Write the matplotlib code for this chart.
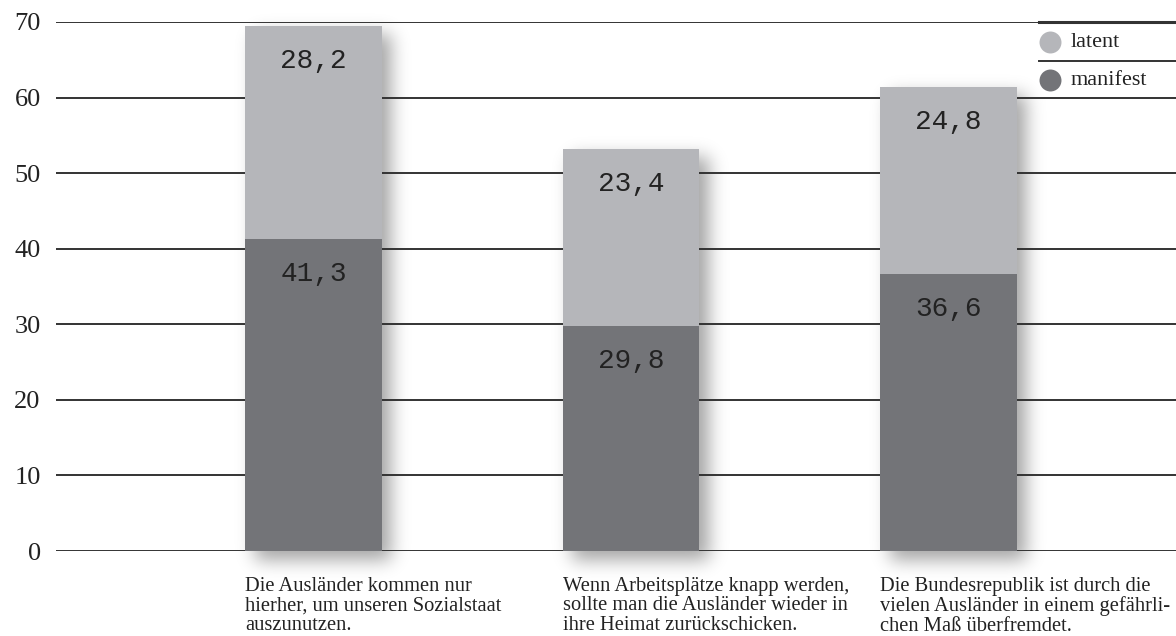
import numpy as np
import matplotlib
matplotlib.use("Agg")
import matplotlib.pyplot as plt

# Werte (Prozent)
kategorien = [
    "Die Ausländer kommen nur\nhierher, um unseren Sozialstaat\nauszunutzen.",
    "Wenn Arbeitsplätze knapp werden,\nsollte man die Ausländer wieder in\nihre Heimat zurückschicken.",
    "Die Bundesrepublik ist durch die\nvielen Ausländer in einem gefährli-\nchen Maß überfremdet.",
]
manifest = [41.3, 29.8, 36.6]
latent = [28.2, 23.4, 24.8]
yticks = [0, 10, 20, 30, 40, 50, 60, 70]

col_latent = "#b5b6ba"
col_manifest = "#737478"
serif = ["Liberation Serif", "DejaVu Serif"]
mono = ["Liberation Mono", "DejaVu Sans Mono"]

W, H, DPI = 1176, 636, 100
fig = plt.figure(figsize=(W / DPI, H / DPI), dpi=DPI)

# Hintergrund-Achse fuer die Schatten
bg = fig.add_axes([0, 0, 1, 1], zorder=-1)
bg.set_axis_off()

ax = fig.add_axes([56 / W, (H - 551) / H, 1 - 56 / W, 529 / H])
ax.set_facecolor("none")
ax.set_xlim(-0.811, 2.717)
ax.set_ylim(0, 70)
for s in ax.spines.values():
    s.set_visible(False)

x = np.arange(len(kategorien))
breite = 0.43

for t in yticks:
    ax.axhline(t, color="#333333", lw=1.4, zorder=1.5)

ax.bar(x, manifest, breite, color=col_manifest, zorder=3)
ax.bar(x, latent, breite, bottom=manifest, color=col_latent, zorder=3)

# Schatten: weichgezeichnete, versetzte Rechtecke
def profil(n, a, b, sigma):
    p = np.zeros(n)
    a, b = int(max(a, 0)), int(min(b, n))
    p[a:b] = 1.0
    k = np.arange(-4 * sigma, 4 * sigma + 1)
    g = np.exp(-0.5 * (k / sigma) ** 2)
    g /= g.sum()
    return np.convolve(p, g, mode="same")

alpha = np.zeros((H, W))
for xi, m, l in zip(x, manifest, latent):
    (px0, py0) = ax.transData.transform((xi - breite / 2, 0))
    (px1, py1) = ax.transData.transform((xi + breite / 2, m + l))
    dx, dy, sig = 10, 9, 9
    fx = profil(W, px0 + dx, px1 + dx, sig)
    # Bildzeilen von oben gezaehlt
    fy = profil(H, H - py1 + dy, H - py0 + dy, sig)
    alpha += np.outer(fy, fx)
alpha = np.clip(alpha, 0, 1) * 0.36
img = np.zeros((H, W, 4))
img[..., 3] = alpha
bg.imshow(img, extent=[0, 1, 0, 1], aspect="auto", interpolation="bilinear")
bg.set_xlim(0, 1)
bg.set_ylim(0, 1)

# Wertbeschriftungen
for xi, m, l in zip(x, manifest, latent):
    for val, top in ((m, m), (l, m + l)):
        ax.annotate(f"{val:.1f}".replace(".", ","), (xi, top), xytext=(0, -25),
                    textcoords="offset points", ha="center", va="center",
                    fontsize=20, family=mono, color="#222222", zorder=4)

# Achsenbeschriftung
ax.set_yticks(yticks)
ax.set_xticks([])
ax.tick_params(axis="y", length=0, pad=11, labelsize=19, labelcolor="#222222")
for lab in ax.get_yticklabels():
    lab.set_family(serif)

# Kategorien unter den Balken
for xi, txt in zip(x, kategorien):
    ax.annotate(txt, (xi - breite / 2, 0), xytext=(0, -18.5), textcoords="offset points",
                ha="left", va="top", fontsize=14.8, family=serif, color="#222222",
                linespacing=1.04, annotation_clip=False)

# Legende
ax.plot([2.285, 2.717], [70, 70], color="#333333", lw=2.2, clip_on=False, zorder=1.6)
ax.plot([2.285, 2.717], [64.8, 64.8], color="#333333", lw=1.4, clip_on=False, zorder=1.5)
for yv, col, name in ((67.35, col_latent, "latent"), (62.3, col_manifest, "manifest")):
    ax.scatter([2.32], [yv], s=250, color=col, zorder=4, clip_on=False, linewidths=0)
    ax.text(2.386, yv, name, va="center", ha="left", fontsize=16, family=serif,
            color="#222222")

fig.savefig("out.png", dpi=DPI)
